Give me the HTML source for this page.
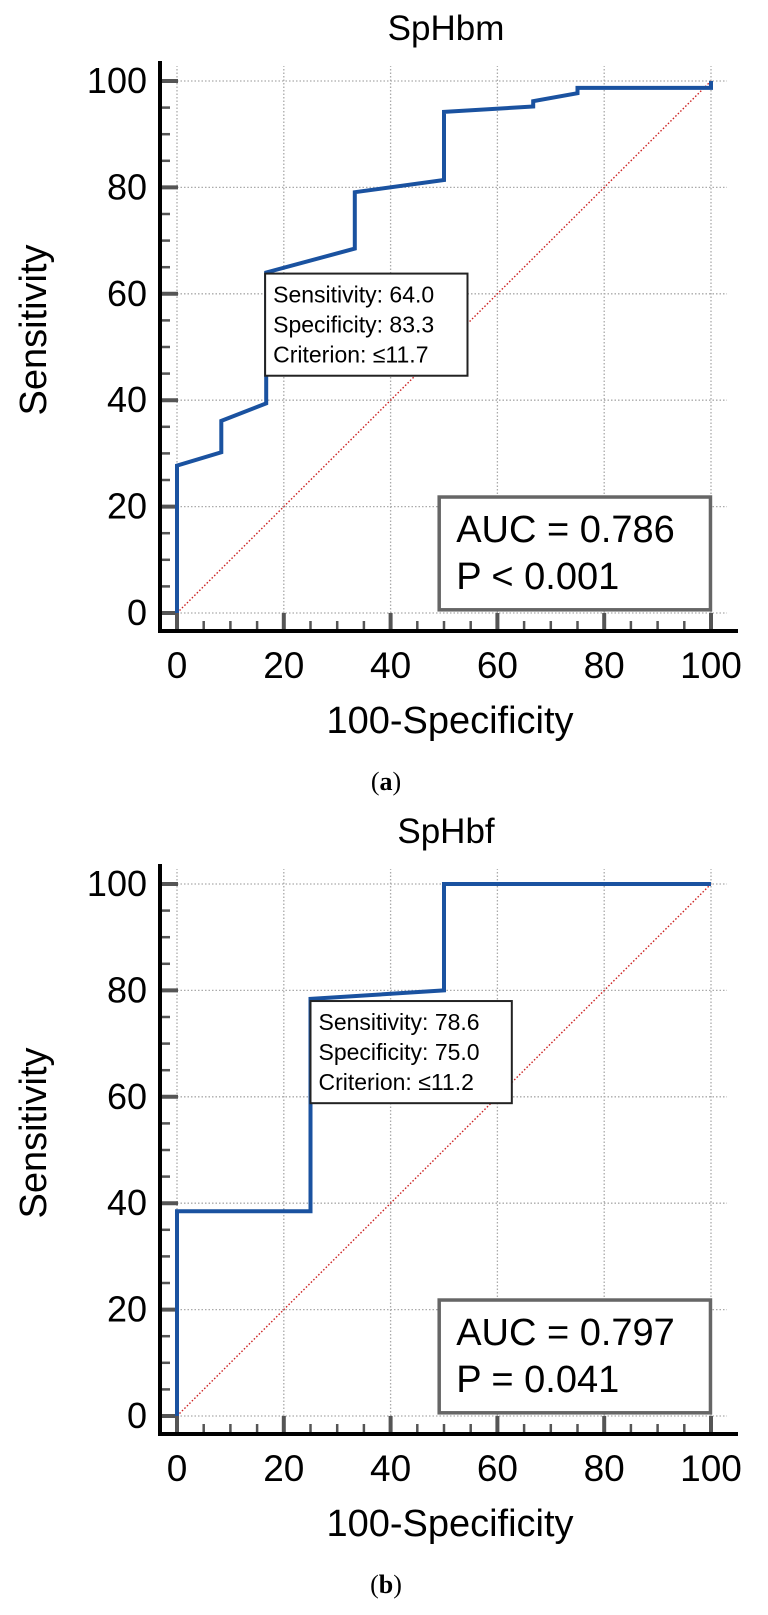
<!DOCTYPE html>
<html><head><meta charset="utf-8"><style>
html,body{margin:0;padding:0;background:#fff;}
svg{display:block;font-family:"Liberation Sans",Arial,sans-serif;}
</style></head><body>
<svg id="fig" width="768" height="1615" viewBox="0 0 768 1615" xmlns="http://www.w3.org/2000/svg"></svg>
<script>
// Chart A data (SpHbm)
const rocA_fpr  = [0, 0,    8.3,  8.3,  16.7, 16.7, 33.3, 33.3, 50,   50,   66.7, 66.7, 75,   75,   100,  100];
const rocA_sens = [0, 27.7, 30.2, 36.1, 39.4, 64.0, 68.5, 79.1, 81.4, 94.2, 95.2, 96.2, 97.7, 98.7, 98.7, 100];
const annotA = ["Sensitivity: 64.0", "Specificity: 83.3", "Criterion: \u226411.7"];
const statsA = ["AUC = 0.786", "P < 0.001"];
// Chart B data (SpHbf)
const rocB_fpr  = [0, 0,    25,   25,   50,   50,  100];
const rocB_sens = [0, 38.5, 38.5, 78.4, 80.0, 100, 100];
const annotB = ["Sensitivity: 78.6", "Specificity: 75.0", "Criterion: \u226411.2"];
const statsB = ["AUC = 0.797", "P = 0.041"];
const tickLabels = [0, 20, 40, 60, 80, 100];

const NS = "http://www.w3.org/2000/svg";
const svg = document.getElementById('fig');
function mk(tag, attrs, parent, text){
  const e = document.createElementNS(NS, tag);
  for (const k in attrs) e.setAttribute(k, attrs[k]);
  if (text !== undefined) e.textContent = text;
  parent.appendChild(e); return e;
}

function chart(off, title, fpr, sens, annot, annotPos, stats, caption, id){
  const g = mk('g', {}, svg);
  
  
  const X = v => 177 + v * 5.34;
  const Y = v => off + 613 - v * 5.32;
  // title
  const t = mk('text', {x: 446, y: off + 40, 'font-size': 35, 'text-anchor': 'middle', fill: '#000'}, g, title);
  
  
  // grid
  for (const v of tickLabels){
    const gl = mk('line', {x1: X(0), x2: X(103), y1: Y(v), y2: Y(v), stroke: '#aaa', 'stroke-width': 1.3, 'stroke-dasharray': '1.5,2'}, g);
    
    
    const gv = mk('line', {x1: X(v), x2: X(v), y1: Y(0), y2: Y(102.8), stroke: '#aaa', 'stroke-width': 1.3, 'stroke-dasharray': '1.5,2'}, g);
    
    
  }
  // ticks
  for (let v = 0; v <= 100; v += 5){
    const major = v % 20 === 0;
    const len = major ? 18 : 10;
    const w = major ? 4 : 2.5;
    const ty = mk('line', {x1: 160, x2: 160 + len, y1: Y(v), y2: Y(v), stroke: '#555', 'stroke-width': w}, g);
    
    
    const tx = mk('line', {x1: X(v), x2: X(v), y1: off + 631, y2: off + 631 - len, stroke: '#555', 'stroke-width': w}, g);
    
    
  }
  // axes
  const ya = mk('line', {x1: 160, x2: 160, y1: off + 61, y2: off + 633, stroke: '#000', 'stroke-width': 4}, g);
  
  
  const xa = mk('line', {x1: 158, x2: 738, y1: off + 631, y2: off + 631, stroke: '#000', 'stroke-width': 4}, g);
  
  
  // tick labels
  for (const v of tickLabels){
    const yl = mk('text', {x: 147, y: Y(v) + 12, 'font-size': 36, 'text-anchor': 'end', fill: '#000'}, g, v);
    
    
    const xl = mk('text', {x: X(v), y: off + 678, 'font-size': 37, 'text-anchor': 'middle', fill: '#000'}, g, v);
    
    
  }
  // axis titles
  const xt = mk('text', {x: 450, y: off + 733, 'font-size': 38, 'text-anchor': 'middle', fill: '#000'}, g, '100-Specificity');
  
  
  const yt = mk('text', {x: 0, y: 0, 'font-size': 38, 'text-anchor': 'middle', fill: '#000', transform: `translate(46,${off + 330}) rotate(-90)`}, g, 'Sensitivity');
  
  
  // diagonal
  const dg = mk('line', {x1: X(0), y1: Y(0), x2: X(100), y2: Y(100), stroke: '#c22', 'stroke-width': 1.4, 'stroke-dasharray': '1.5,2'}, g);
  
  
  // ROC curve
  const pts = fpr.map((f, i) => X(f).toFixed(1) + ',' + Y(sens[i]).toFixed(1)).join(' ');
  const pl = mk('polyline', {points: pts, fill: 'none', stroke: '#1a52a0', 'stroke-width': 4, 'stroke-linejoin': 'miter'}, g);
  
  
  // annotation box
  const [ax0, ay0, ax1, ay1] = annotPos;
  const ab = mk('rect', {x: X(ax0), y: Y(ay0), width: X(ax1) - X(ax0), height: Y(ay1) - Y(ay0), fill: '#fff', stroke: '#222', 'stroke-width': 2}, g);
  
  
  annot.forEach((s, i) => {
    const at = mk('text', {x: X(ax0) + 8, y: Y(ay0) + 29 + i * 30, 'font-size': 23, fill: '#000'}, g, s);
    
    
  });
  // AUC box
  const sb = mk('rect', {x: X(49.1), y: Y(21.8), width: X(99.9) - X(49.1), height: Y(0.6) - Y(21.8), fill: '#fff', stroke: '#666', 'stroke-width': 3.5}, g);
  
  
  stats.forEach((s, i) => {
    const st = mk('text', {x: X(49.1) + 17, y: Y(21.8) + 45 + i * 47, 'font-size': 38, fill: '#000'}, g, s);
    
    
  });
  // caption
  const cp = mk('text', {x: 386, y: off + 790, 'font-size': 26, 'text-anchor': 'middle', fill: '#000', 'font-family': '"Liberation Serif",serif'}, g);
  
  
  mk('tspan', {}, cp, '(');
  mk('tspan', {'font-weight': 'bold'}, cp, caption);
  mk('tspan', {}, cp, ')');
}
chart(0, 'SpHbm', rocA_fpr, rocA_sens, annotA, [16.5, 63.8, 54.4, 44.6], statsA, 'a', 'a');
chart(803, 'SpHbf', rocB_fpr, rocB_sens, annotB, [25, 78.0, 62.7, 58.8], statsB, 'b', 'b');
</script>
</body></html>
